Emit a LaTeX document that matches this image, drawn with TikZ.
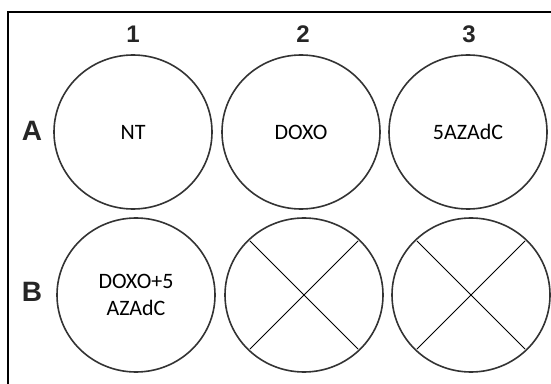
\documentclass[tikz,border=0pt]{standalone}
\usepackage{fontspec}
\usetikzlibrary{shapes.geometric,calc}
\setmainfont{Carlito}
\newfontfamily\labfont{Liberation Sans}
\begin{document}
\begin{tikzpicture}[x=1pt,y=1pt,
  well/.style={draw=black!80, line width=1.6pt, ellipse, minimum width=158pt, minimum height=154pt, inner sep=0pt, font=\fontsize{22}{27}\selectfont, align=center},
  rowlab/.style={font=\labfont\bfseries\fontsize{28}{32}\selectfont, text=black!85},
  collab/.style={font=\labfont\bfseries\fontsize{24}{28}\selectfont, text=black!85},
  crossline/.style={draw=black, line width=0.8pt}]
\useasboundingbox (0,0) rectangle (551,383);
\draw[line width=1.6pt] (8,-2) -- (8,371) -- (553,371);
\node[well] (a1) at (133,251) {NT};
\node[well] (a2) at (301,251) {DOXO};
\node[well] (a3) at (468,251) {5AZAdC};
\node[well] (b1) at (136,88) {DOXO+5\\AZAdC};
\node[well] (b2) at (304,88) {};
\node[well] (b3) at (471,88) {};
\node[collab] (c1) at (133,349) {1};
\node[collab] (c2) at (303,349) {2};
\node[collab] (c3) at (469,349) {3};
\node[rowlab] (ra) at (32,252) {A};
\node[rowlab] (rb) at (32,91) {B};
\foreach \w in {b2,b3}{
  \draw[crossline] ($(\w.center)!0.97!(\w.45)$) -- ($(\w.center)!0.97!(\w.225)$);
  \draw[crossline] ($(\w.center)!0.97!(\w.135)$) -- ($(\w.center)!0.97!(\w.315)$);
}
\end{tikzpicture}
\end{document}
